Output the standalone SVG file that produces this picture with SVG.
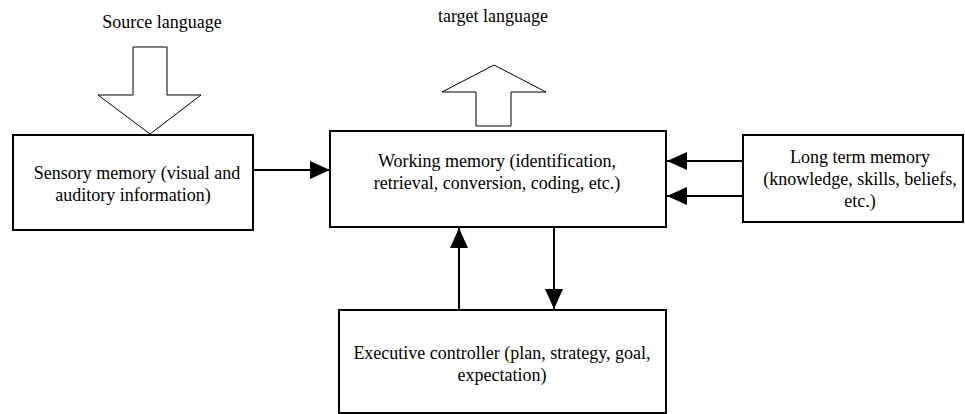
<svg xmlns="http://www.w3.org/2000/svg" width="965" height="414" viewBox="0 0 965 414">
<style>
.box{fill:#fff;stroke:#000;stroke-width:2}
.blk{fill:#fff;stroke:#000;stroke-width:1}
.ln{fill:none;stroke:#000;stroke-width:2}
</style>
<defs>
<marker id="ah" markerUnits="userSpaceOnUse" markerWidth="20" markerHeight="18" refX="20" refY="9" orient="auto">
<path d="M0,0 L20,9 L0,18 Z" fill="#000"/>
</marker>
</defs>
<g id="source-arrow">
<polygon class="blk" points="133,47 167,47 167,95 201,95 150,134 98,95 133,95"/>
<text x="162" y="28" font-family="Liberation Serif" font-size="18" text-anchor="middle">Source language</text>
</g>
<g id="target-arrow">
<polygon class="blk" points="476,126 511,126 511,92 546,92 494,65 442,92 476,92"/>
<text x="493" y="22" font-family="Liberation Serif" font-size="18" text-anchor="middle">target language</text>
</g>
<g id="sensory">
<rect class="box" x="13" y="135" width="240" height="95"/>
<text x="137" y="179" font-family="Liberation Serif" font-size="18" text-anchor="middle">Sensory memory (visual and</text>
<text x="133" y="201" font-family="Liberation Serif" font-size="18" text-anchor="middle">auditory information)</text>
</g>
<g id="working">
<rect class="box" x="330" y="131" width="336" height="96"/>
<text x="497" y="167" font-family="Liberation Serif" font-size="18" text-anchor="middle">Working memory (identification,</text>
<text x="497" y="189" font-family="Liberation Serif" font-size="18" text-anchor="middle">retrieval, conversion, coding, etc.)</text>
</g>
<g id="longterm">
<rect class="box" x="743" y="135" width="220" height="87"/>
<text x="860" y="163" font-family="Liberation Serif" font-size="18" text-anchor="middle">Long term memory</text>
<text x="860" y="185" font-family="Liberation Serif" font-size="18" text-anchor="middle">(knowledge, skills, beliefs,</text>
<text x="860" y="207" font-family="Liberation Serif" font-size="18" text-anchor="middle">etc.)</text>
</g>
<g id="executive">
<rect class="box" x="339" y="310" width="327" height="103"/>
<text x="502" y="359" font-family="Liberation Serif" font-size="18" text-anchor="middle">Executive controller (plan, strategy, goal,</text>
<text x="502" y="381" font-family="Liberation Serif" font-size="18" text-anchor="middle">expectation)</text>
</g>
<g id="connectors">
<line class="ln" x1="253" y1="170" x2="330" y2="170" marker-end="url(#ah)"/>
<line class="ln" x1="743" y1="161" x2="667" y2="161" marker-end="url(#ah)"/>
<line class="ln" x1="743" y1="196" x2="667" y2="196" marker-end="url(#ah)"/>
<line class="ln" x1="459" y1="310" x2="459" y2="228" marker-end="url(#ah)"/>
<line class="ln" x1="554" y1="227" x2="554" y2="309" marker-end="url(#ah)"/>
</g>
</svg>
